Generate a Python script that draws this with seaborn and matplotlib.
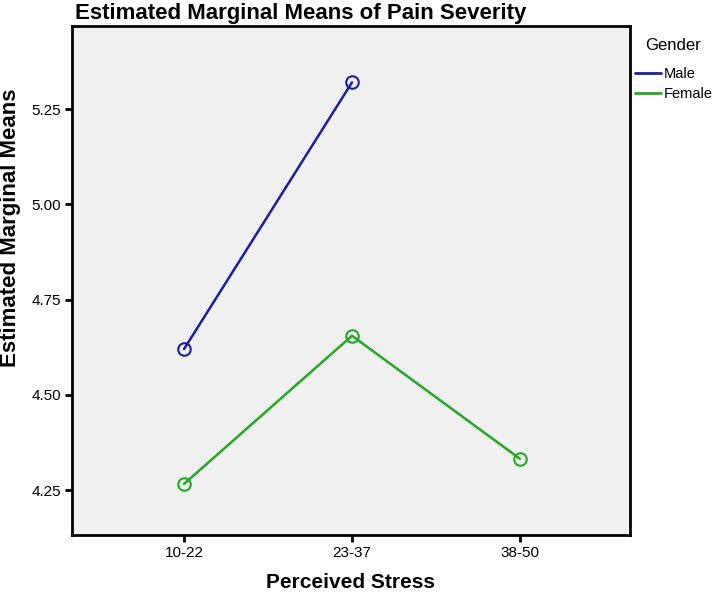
import matplotlib
matplotlib.use('Agg')
import matplotlib.pyplot as plt
import seaborn as sns
import pandas as pd

stress_levels = ['10-22', '23-37', '38-50']
male_means = [4.62, 5.32]
female_means = [4.266, 4.655, 4.332]
genders = ['Male', 'Female']

df = pd.concat([
    pd.DataFrame({'Perceived Stress': stress_levels[:2], 'Mean': male_means, 'Gender': 'Male'}),
    pd.DataFrame({'Perceived Stress': stress_levels, 'Mean': female_means, 'Gender': 'Female'}),
]).reset_index(drop=True)

sns.set_style('white')
plt.rcParams['font.family'] = ['Liberation Sans', 'DejaVu Sans']
plt.rcParams['text.color'] = 'black'
plt.rcParams['xtick.color'] = 'black'
plt.rcParams['ytick.color'] = 'black'

palette = {'Male': '#1a1f96', 'Female': '#22a822'}

fig = plt.figure(figsize=(7.14, 5.97), dpi=100)
ax = fig.add_axes([72 / 714, 62 / 597, 558 / 714, 509 / 597])
ax.set_facecolor('#f0f0f0')

sns.lineplot(data=df, x='Perceived Stress', y='Mean', hue='Gender', hue_order=genders,
             palette=palette, marker='o', markersize=9, markerfacecolor='none',
             markeredgewidth=1.5, linewidth=1.8, ax=ax, legend=False)
for line, g in zip(ax.get_lines(), genders):
    line.set_markeredgecolor(palette[g])

ax.set_xlim(-0.667, 2.655)
ax.set_ylim(4.132, 5.468)
ax.set_yticks([4.25, 4.50, 4.75, 5.00, 5.25])
ax.set_yticklabels(['4.25', '4.50', '4.75', '5.00', '5.25'])
ax.set_xlabel('')
ax.set_ylabel('')
for s in ax.spines.values():
    s.set_linewidth(2)
    s.set_color('black')
ax.tick_params(axis='both', which='both', direction='out', length=5, width=2,
               labelsize=11, bottom=True, left=True, top=False, right=False, pad=3,
               labelcolor='black')

fig.text(75 / 714, 1 - 13 / 597, 'Estimated Marginal Means of Pain Severity',
         fontsize=16, fontweight='bold', ha='left', va='center')
fig.text(11 / 714, 1 - 228 / 597, 'Estimated Marginal Means', rotation=90,
         fontsize=16, fontweight='bold', ha='center', va='center')
fig.text(351 / 714, 1 - 583 / 597, 'Perceived Stress',
         fontsize=15, fontweight='bold', ha='center', va='center')
fig.text(645 / 714, 1 - 46 / 597, 'Gender', fontsize=12, ha='left', va='center')

handles = [plt.Line2D([], [], color=palette[g], linewidth=2) for g in genders]
fig.legend(handles, genders, loc='upper left',
           bbox_to_anchor=(635 / 714, 1 - 67 / 597), frameon=False,
           fontsize=10.5, handlelength=1.8, handletextpad=0.2,
           labelspacing=0.4, borderaxespad=0, borderpad=0)

fig.savefig('out.png', dpi=100)
